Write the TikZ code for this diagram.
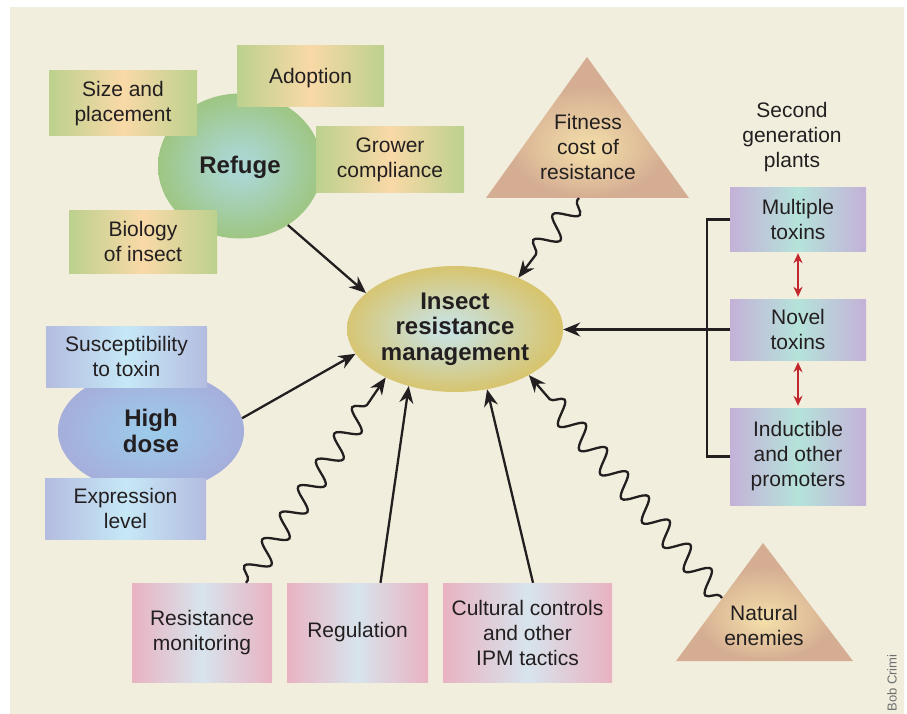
\documentclass[tikz,border=0pt]{standalone}
\usepackage{fontspec}
\setmainfont{Liberation Sans}
\usetikzlibrary{shapes.geometric,arrows.meta,decorations.pathmorphing,calc}
\definecolor{bg}{HTML}{F2EEDE}
\definecolor{ink}{HTML}{231F20}
\definecolor{gedge}{HTML}{BCD18D}
\definecolor{gmid}{HTML}{F9D9A7}
\definecolor{bedge}{HTML}{B4BCE0}
\definecolor{bmid}{HTML}{C6E8F6}
\definecolor{pedge}{HTML}{C4B1D8}
\definecolor{pmid}{HTML}{B5E3DA}
\definecolor{kedge}{HTML}{E9B2C2}
\definecolor{kmid}{HTML}{D7E4EC}
\definecolor{refin}{HTML}{ABD8D8}
\definecolor{refout}{HTML}{9DC47B}
\definecolor{irmin}{HTML}{C8E4E8}
\definecolor{irmout}{HTML}{D8C265}
\definecolor{hdin}{HTML}{9CCBEA}
\definecolor{hdout}{HTML}{A6ADDA}
\definecolor{trin}{HTML}{F4E0AA}
\definecolor{trout}{HTML}{D5AD92}
\definecolor{redarr}{HTML}{C1272D}
\definecolor{credit}{HTML}{6D6E70}
\pgfdeclareradialshading{trishade}{\pgfpoint{0bp}{-8bp}}{color(0bp)=(trin); color(20bp)=(trout); color(50bp)=(trout)}
\pgfdeclareradialshading{refshade}{\pgfpoint{0bp}{0bp}}{color(0bp)=(refin); color(6bp)=(refin!85!refout); color(27bp)=(refout); color(50bp)=(refout)}
\pgfdeclareradialshading{irmshade}{\pgfpoint{-2bp}{0bp}}{color(0bp)=(irmin); color(5bp)=(irmin!85!irmout); color(27bp)=(irmout); color(50bp)=(irmout)}
\pgfdeclareradialshading{hdshade}{\pgfpoint{0bp}{0bp}}{color(0bp)=(hdin); color(5bp)=(hdin!85!hdout); color(26bp)=(hdout); color(50bp)=(hdout)}
\begin{document}
\begin{tikzpicture}[x=1pt,y=-1pt,
  txt/.style={text=ink, font=\fontsize{21}{25}\selectfont, align=center},
  boldtxt/.style={text=ink, font=\fontsize{24}{25.5}\selectfont\bfseries, align=center},
  box/.style={txt, inner sep=0pt},
  gbox/.style={box, left color=gedge, right color=gedge, middle color=gmid},
  bbox/.style={box, left color=bedge, right color=bedge, middle color=bmid},
  pbox/.style={box, left color=pedge, right color=pedge, middle color=pmid},
  kbox/.style={box, left color=kedge, right color=kedge, middle color=kmid},
  oval/.style={ellipse, inner sep=0pt, boldtxt},
  lineblk/.style={draw=ink, line width=2.3pt},
  arr/.style={lineblk, -{Stealth[length=17pt, width=14pt]}},
  wave/.style={decorate, decoration={snake, segment length=32pt, amplitude=11pt, pre length=3pt, post length=18pt}},
  redarrow/.style={draw=redarr, line width=1.8pt, {Stealth[length=10pt,width=9pt]}-{Stealth[length=10pt,width=9pt]}, shorten >=2pt, shorten <=2pt}
]
\useasboundingbox (0,0) rectangle (907,714);
\fill[bg] (10,7) rectangle (904,714);

% Refuge cluster
\node[oval, minimum width=164pt, minimum height=145pt, shade, shading=refshade, text depth=2pt] (refuge) at (240,166) {Refuge};
\node[gbox, minimum width=148pt, minimum height=65pt] (size) at (123,103.5) {Size and\\placement};
\node[gbox, minimum width=147pt, minimum height=61pt, text depth=2pt] (adopt) at (310.5,76.5) {Adoption};
\node[gbox, minimum width=148pt, minimum height=66pt] (grower) at (390,160) {Grower\\compliance};
\node[gbox, minimum width=148pt, minimum height=63pt] (biology) at (143,241.5) {Biology\\of insect};

% Fitness triangle
\path[shade, shading=trishade] (587,57) -- (689,198) -- (486,198) -- cycle;
\node[txt] (fitness) at (588,147) {Fitness\\cost of\\resistance};
\coordinate (fitbase) at (579,198);

% Second generation plants
\node[txt] (second) at (792,137) {Second\\generation\\plants};
\node[pbox, minimum width=136pt, minimum height=63pt] (multi) at (798,219.5) {Multiple\\toxins};
\node[pbox, minimum width=136pt, minimum height=61pt] (novel) at (798,329.5) {Novel\\toxins};
\node[pbox, minimum width=136pt, minimum height=97pt] (induct) at (798,456.5) {Inductible\\and other\\promoters};
\draw[redarrow] (multi.south) -- (novel.north);
\draw[redarrow] (novel.south) -- (induct.north);
\coordinate (brk) at (707,329);

% Central
\node[oval, minimum width=216pt, minimum height=126pt, shade, shading=irmshade] (irm) at (455,329) {Insect\\resistance\\management};

% High dose cluster
\node[oval, minimum width=186pt, minimum height=122pt, shade, shading=hdshade, font=\fontsize{24}{26}\selectfont\bfseries] (hd) at (151,431) {High\\dose};
\node[bbox, minimum width=161pt, minimum height=61pt] (suscept) at (126.5,356.5) {Susceptibility\\to toxin};
\node[bbox, minimum width=161pt, minimum height=61pt] (expr) at (125.5,508.5) {Expression\\level};

% Bottom boxes
\node[kbox, minimum width=140pt, minimum height=99pt] (resmon) at (202,632.5) {Resistance\\monitoring};
\node[kbox, minimum width=141pt, minimum height=99pt] (reg) at (357.5,632.5) {Regulation};
\node[kbox, minimum width=169pt, minimum height=99pt] (cult) at (527.5,632.5) {Cultural controls\\and other\\IPM tactics};

% Natural enemies
\path[shade, shading=trishade] (763,543) -- (853,661) -- (676,661) -- cycle;
\node[txt] (natural) at (764,625) {Natural\\enemies};
\coordinate (natedge) at (722,598);

% Credit
\node[rotate=90, text=credit, font=\fontsize{13}{13}\selectfont] (creditname) at (892,683) {Bob Crimi};

% Connectors
\draw[arr] (refuge.-51) -- (irm.158);
\draw[arr, wave] (fitbase) -- (irm.39);
\draw[arr] (novel.west) -- (novel.west -| irm.east);
\draw[lineblk] (multi.west) -| (brk) |- (induct.west);
\draw[arr] (hd.8) -- (irm.194);
\draw[arr, wave] ([xshift=44pt]resmon.north) -- (irm.215);
\draw[arr] ([xshift=23pt]reg.north) -- (irm.231);
\draw[arr] ([xshift=5.5pt]cult.north) -- (irm.-62);
\draw[arr, wave] (natedge) -- (irm.-32);
\end{tikzpicture}
\end{document}
